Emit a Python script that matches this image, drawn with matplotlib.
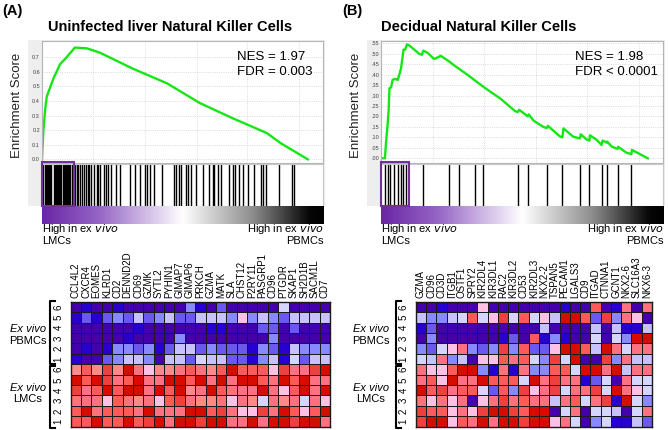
import numpy as np
import matplotlib
matplotlib.use('Agg')
import matplotlib.pyplot as plt
from matplotlib.colors import ListedColormap, LinearSegmentedColormap
from matplotlib.patches import Rectangle
from matplotlib.lines import Line2D

plt.rcParams['font.family'] = ['Liberation Sans', 'DejaVu Sans']

W, H = 668, 430

# ---- running enrichment score, rank position (0..1000) vs ES ----
es_a_x = [0, 5, 11, 17, 40, 64, 88, 117, 159, 206, 324, 445, 562, 680, 800, 850, 946]
es_a_y = [0, 0.20, 0.337, 0.43, 0.55, 0.65, 0.70, 0.765, 0.76, 0.73, 0.62, 0.52, 0.385,
          0.28, 0.18, 0.11, 0.0]

es_b_x = [0, 14, 18, 24, 27, 30, 36, 41, 50, 59, 65, 71, 76, 80, 86, 92, 100, 118, 135, 145,
          150, 165, 188, 200, 212, 240, 259, 306, 365, 424, 476, 486, 490, 521, 524, 541, 576,
          588, 592, 635, 643, 647, 682, 706, 708, 729, 739, 741, 765, 782, 786, 800, 802, 818,
          839, 841, 870, 888, 890, 946]
es_b_y = [0, 0, 0.08, 0.17, 0.23, 0.335, 0.34, 0.375, 0.38, 0.375, 0.40, 0.43, 0.48, 0.52,
          0.52, 0.545, 0.54, 0.52, 0.50, 0.495, 0.515, 0.505, 0.475, 0.482, 0.49, 0.465, 0.445,
          0.40, 0.34, 0.285, 0.225, 0.222, 0.232, 0.20, 0.21, 0.18, 0.15, 0.145, 0.155, 0.104,
          0.10, 0.143, 0.103, 0.095, 0.115, 0.09, 0.085, 0.11, 0.088, 0.064, 0.085, 0.075, 0.08,
          0.056, 0.045, 0.055, 0.027, 0.02, 0.04, 0.0]

# gene hit positions
hits_a = [5, 9, 13, 17, 21, 25, 29, 33, 41, 45, 49, 53, 57, 61, 65, 69, 73, 77, 81, 85, 89,
          93, 97, 101, 105, 109, 117, 123, 129, 135, 141, 149, 156, 162, 168, 176, 184, 194,
          201, 208, 220, 227, 235, 247, 262, 279, 312, 330, 348, 368, 375, 383, 397, 428, 468,
          478, 486, 495, 513, 520, 532, 548, 574, 593, 607, 613, 626, 638, 667, 678, 686, 702,
          714, 732, 755, 779, 785, 797, 844, 891, 898]
hits_b = [14, 24, 33, 45, 61, 71, 79, 88, 150, 241, 278, 333, 361, 486, 521, 588, 643, 706,
          739, 784, 800, 839, 888]

# ---- heatmaps: level 0 (deep blue) .. 11 (deep red) ----
genes_a = ['CCL4L2', 'CXCR4', 'EOMES', 'KLRD1', 'CD2', 'DENND2D', 'CD69', 'GZMK', 'SYTL2',
           'PYHIN1', 'GIMAP7', 'GIMAP6', 'PRKCH', 'GZMA', 'MATK', 'SLA', 'CHST12', 'P2RY11',
           'PASGRP1', 'CD96', 'PTGDR', 'SKAP1', 'SH2D1B', 'SACM1L', 'CD7']
heat_a_pbmc = [
    [0, 1, 0, 0, 1, 0, 0, 0, 0, 0, 0, 3, 1, 0, 2, 0, 0, 0, 0, 0, 5, 0, 0, 0, 0],
    [1, 2, 1, 2, 3, 2, 4, 2, 3, 4, 2, 2, 4, 4, 4, 3, 6, 3, 4, 3, 2, 4, 4, 4, 4],
    [0, 0, 0, 0, 0, 0, 1, 0, 0, 0, 0, 0, 0, 1, 1, 0, 0, 0, 2, 2, 0, 2, 0, 0, 0],
    [0, 0, 0, 0, 0, 1, 0, 0, 0, 0, 3, 0, 0, 0, 0, 0, 0, 0, 0, 3, 0, 0, 0, 0, 0],
    [0, 1, 0, 1, 3, 3, 2, 3, 1, 2, 4, 4, 2, 3, 2, 2, 2, 1, 3, 2, 1, 4, 3, 3, 3],
    [1, 0, 0, 2, 3, 4, 4, 3, 0, 4, 4, 2, 5, 4, 4, 2, 2, 1, 3, 4, 1, 5, 2, 4, 4],
]
heat_a_lmc = [
    [7, 9, 7, 10, 7, 11, 8, 6, 7, 7, 8, 9, 8, 7, 9, 11, 9, 9, 9, 6, 10, 8, 8, 10, 11],
    [11, 9, 11, 10, 8, 9, 11, 8, 8, 11, 11, 9, 11, 8, 11, 8, 11, 11, 9, 8, 11, 9, 11, 8, 8],
    [10, 8, 9, 11, 9, 11, 11, 8, 11, 9, 11, 7, 8, 11, 9, 8, 8, 8, 11, 8, 6, 9, 11, 8, 11],
    [8, 8, 8, 6, 9, 8, 7, 8, 6, 9, 10, 8, 7, 7, 8, 6, 8, 7, 5, 8, 7, 8, 5, 8, 6],
    [9, 11, 8, 9, 9, 9, 8, 11, 8, 8, 8, 11, 11, 9, 10, 8, 6, 6, 10, 8, 11, 9, 6, 9, 11],
    [9, 9, 11, 9, 9, 11, 9, 10, 11, 8, 11, 11, 10, 11, 11, 8, 8, 11, 8, 11, 11, 10, 11, 11, 8],
]

genes_b = ['GZMA', 'CD96', 'CD3D', 'ITGB1', 'OSTF1', 'SPRY2', 'KIR2DL4', 'KIR3DL1', 'RAC2',
           'KIR3DL2', 'CD53', 'KIR2DL3', 'NKX2-2', 'TSPAN5', 'PECAM1', 'LGALS3', 'CD9',
           'ITGAD', 'CTNNA1', 'GCNT1', 'NKX2-6', 'SLC16A3', 'NKX6-3']
heat_b_pbmc = [
    [0, 0, 1, 0, 0, 0, 6, 0, 0, 0, 0, 0, 0, 0, 1, 0, 0, 9, 0, 1, 8, 0, 8],
    [4, 3, 3, 4, 5, 9, 5, 6, 10, 5, 9, 5, 6, 4, 11, 11, 9, 2, 10, 3, 8, 6, 0],
    [1, 2, 0, 0, 0, 0, 0, 0, 0, 0, 0, 0, 4, 0, 0, 0, 0, 4, 0, 4, 1, 1, 4],
    [0, 3, 0, 0, 0, 0, 0, 0, 1, 2, 0, 9, 1, 3, 1, 0, 0, 5, 0, 5, 3, 11, 11],
    [3, 2, 5, 6, 8, 3, 2, 3, 10, 3, 9, 2, 2, 6, 11, 11, 9, 4, 11, 8, 5, 8, 8],
    [5, 4, 8, 3, 4, 0, 6, 6, 9, 8, 9, 5, 3, 10, 5, 11, 0, 0, 10, 3, 8, 4, 4],
]
heat_b_lmc = [
    [8, 6, 6, 9, 11, 11, 3, 1, 8, 1, 8, 3, 3, 9, 9, 5, 11, 11, 8, 11, 4, 8, 8],
    [8, 9, 6, 11, 8, 8, 11, 9, 9, 9, 5, 11, 8, 10, 8, 8, 1, 2, 5, 0, 8, 5, 5],
    [11, 9, 10, 8, 9, 9, 5, 2, 9, 3, 10, 6, 8, 10, 5, 8, 8, 10, 5, 11, 8, 6, 5],
    [8, 6, 8, 6, 8, 0, 6, 8, 10, 8, 9, 8, 8, 4, 8, 9, 5, 8, 10, 1, 11, 5, 3],
    [10, 9, 9, 6, 8, 6, 10, 11, 11, 10, 9, 11, 11, 0, 5, 8, 0, 5, 5, 4, 0, 5, 8],
    [10, 11, 11, 6, 9, 8, 11, 8, 11, 11, 10, 11, 11, 6, 8, 5, 0, 3, 5, 1, 1, 4, 2],
]
row_labels = ['6', '5', '4', '3', '2', '1', '6', '5', '4', '3', '2', '1']

heat_cmap = ListedColormap(['#4500AD', '#2700D1', '#6B58EF', '#8888FF', '#C7C1FF', '#D5D5FF',
                            '#FFC0E5', '#FF8989', '#FF7080', '#FF5A5A', '#EF4040', '#D60C00'])
grad_cmap = LinearSegmentedColormap.from_list('lmc_pbmc', [
    (0.0, '#6a26a6'), (0.2, '#9565c4'), (0.5, '#ffffff'), (0.75, '#8c8c8c'),
    (0.95, '#060606'), (1.0, '#000000')])

fig = plt.figure(figsize=(W / 100, H / 100), dpi=100)


def box(x0, y0, x1, y1):
    return [x0 / W, 1 - y1 / H, (x1 - x0) / W, (y1 - y0) / H]


def fx(x):
    return x / W


def fy(y):
    return 1 - y / H


def gsea(left, right, es_x, es_y, hits, ylim, yticks, fmt, title, tx, nes, fdr, nx, ylab_x,
         rect_x):
    bg = fig.add_axes(box(left - 14, 40, right + 2, 206))
    bg.set_facecolor('#eeeeee')
    bg.set_xticks([]); bg.set_yticks([])
    for s in bg.spines.values():
        s.set_visible(False)

    ax = fig.add_axes(box(left, 40.7, right, 163))
    ax.plot(es_x, es_y, color='#16e616', lw=1.7)
    ax.set_xlim(0, 1000)
    ax.set_ylim(*ylim)
    ax.set_yticks(yticks)
    ax.set_yticklabels([fmt(v) for v in yticks])
    ax.set_xticks([183, 365, 550, 730, 915])
    ax.set_xticklabels([])
    ax.tick_params(axis='both', length=0, pad=1.5, labelsize=4, labelcolor='#444444')
    ax.grid(color='#cfcfcf', linestyle=':', lw=0.6)
    for s in ax.spines.values():
        s.set_color('#b5b5b5')
    fig.text(fx(nx), fy(57), nes, fontsize=9.5, va='center', ha='left')
    fig.text(fx(nx), fy(72), fdr, fontsize=9.5, va='center', ha='left')
    fig.text(fx(tx), fy(27), title, fontsize=10.5, fontweight='bold', ha='center',
             va='center')
    fig.text(fx(ylab_x), fy(105), 'Enrichment Score', fontsize=9.5, rotation=90,
             ha='center', va='center', color='#222222')

    hx = fig.add_axes(box(left, 164, right, 206))
    hx.vlines(hits, 0, 1, color='black', lw=1.0)
    hx.set_xlim(0, 1000)
    hx.set_ylim(0, 1)
    hx.set_xticks([]); hx.set_yticks([])
    for s in hx.spines.values():
        s.set_color('#c8c8c8')

    gx = fig.add_axes(box(left, 206, right + 1, 224.3))
    gx.imshow(np.linspace(0, 1, 512)[None, :], aspect='auto', cmap=grad_cmap)
    gx.set_axis_off()

    fig.patches.append(Rectangle((fx(rect_x[0]), fy(206)), (rect_x[1] - rect_x[0]) / W,
                                 44 / H, transform=fig.transFigure, fill=False,
                                 edgecolor='#7030a0', lw=1.5, zorder=10))

    fig.text(fx(left), fy(229), 'High in ex $\\it{vivo}$', fontsize=8, ha='left', va='center')
    fig.text(fx(left), fy(241), 'LMCs', fontsize=8, ha='left', va='center')
    fig.text(fx(right + 1), fy(229), 'High in ex $\\it{vivo}$', fontsize=8, ha='right',
             va='center')
    fig.text(fx(right + 1), fy(241), 'PBMCs', fontsize=8, ha='right', va='center')


def heat(x0, x1, genes, pbmc, lmc, brk_x, lab_x):
    ax = fig.add_axes(box(x0, 301.7, x1, 426.7))
    mat = np.array(pbmc + lmc)
    ax.pcolormesh(mat, cmap=heat_cmap, vmin=-0.5, vmax=11.5, edgecolors='#1a1a1a',
                  linewidth=0.7)
    ax.set_xlim(0, len(genes))
    ax.set_ylim(12, 0)
    ax.xaxis.tick_top()
    ax.set_xticks(np.arange(len(genes)) + 0.5)
    ax.set_xticklabels(genes, rotation=90, fontsize=7)
    ax.set_yticks(np.arange(12) + 0.5)
    ax.set_yticklabels(row_labels, rotation=90, fontsize=7, va='center')
    ax.tick_params(length=0, pad=2.5)
    ax.tick_params(axis='y', pad=5)
    for s in ax.spines.values():
        s.set_color('#1a1a1a')
        s.set_linewidth(1.0)

    for (ya, yb) in [(301, 363.5), (365.5, 428)]:
        xs = [fx(brk_x + 5), fx(brk_x), fx(brk_x), fx(brk_x + 5)]
        ys = [fy(ya), fy(ya), fy(yb), fy(yb)]
        fig.lines.append(Line2D(xs, ys, transform=fig.transFigure, color='black', lw=1.5))

    fig.text(fx(lab_x), fy(329), 'Ex vivo', fontsize=8, style='italic', ha='center',
             va='center')
    fig.text(fx(lab_x), fy(341), 'PBMCs', fontsize=8, ha='center', va='center')
    fig.text(fx(lab_x), fy(388), 'Ex vivo', fontsize=8, style='italic', ha='center',
             va='center')
    fig.text(fx(lab_x), fy(399.5), 'LMCs', fontsize=8, ha='center', va='center')


gsea(42, 323, es_a_x, es_a_y, hits_a, (-0.025, 0.812), [0, .1, .2, .3, .4, .5, .6, .7],
     lambda v: f'{v:.1f}', 'Uninfected liver Natural Killer Cells', 170,
     'NES = 1.97', 'FDR = 0.003', 237, 17, (42.3, 74))
gsea(381, 663, es_b_x, es_b_y, hits_b, (-0.0225, 0.5625),
     [0, .05, .1, .15, .2, .25, .3, .35, .4, .45, .5, .55],
     lambda v: f'{v:.2f}'[1:], 'Decidual Natural Killer Cells', 479,
     'NES = 1.98', 'FDR < 0.0001', 575, 356, (380.7, 409))

heat(70.7, 330, genes_a, heat_a_pbmc, heat_a_lmc, 50, 28)
heat(415.7, 652, genes_b, heat_b_pbmc, heat_b_lmc, 396, 371)

fig.text(fx(2), fy(11), '(A)', fontsize=10.5, fontweight='bold', ha='left', va='center')
fig.text(fx(342), fy(11), '(B)', fontsize=10.5, fontweight='bold', ha='left', va='center')

plt.savefig('out.png', dpi=100)
